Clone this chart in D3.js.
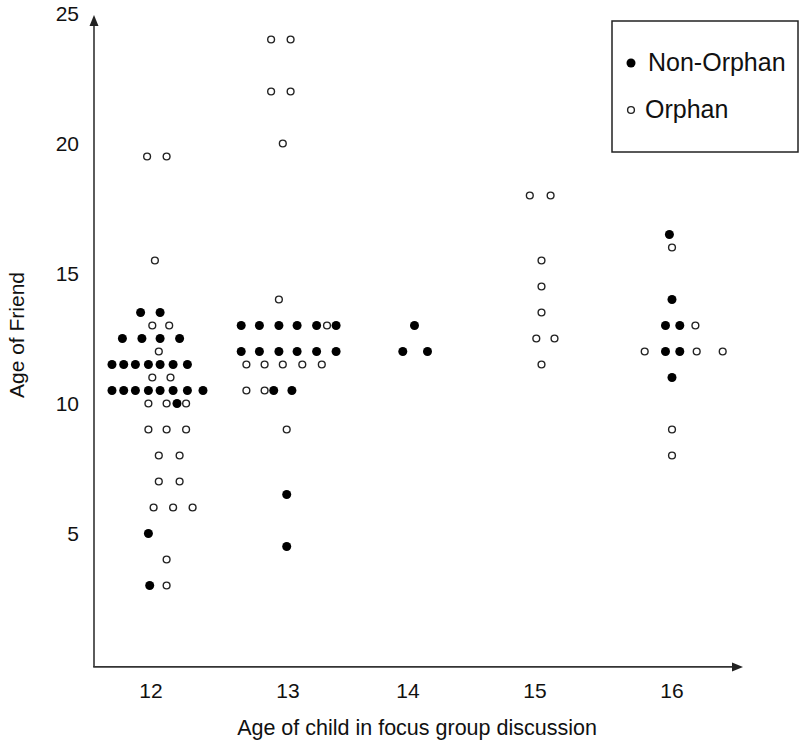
<!DOCTYPE html>
<html>
<head>
<meta charset="utf-8">
<script src="https://cdn.jsdelivr.net/npm/d3@7"></script>
<style>
  html, body { margin: 0; padding: 0; background: #fff; }
  svg { display: block; }
  text { font-family: "Liberation Sans", Arial, sans-serif; fill: #111; }
</style>
</head>
<body>
<svg id="chart" width="800" height="741"></svg>
<script>
// ---- data ----
const categories = [12, 13, 14, 15, 16];
const yTicks = [5, 10, 15, 20, 25];
// [age of child, age of friend, horizontal jitter (in age units)]
const nonOrphan = [
  [12, 13.5, -0.08], [12, 13.5, 0.07],
  [12, 12.5, -0.22], [12, 12.5, -0.07], [12, 12.5, 0.07], [12, 12.5, 0.22],
  [12, 11.5, -0.30], [12, 11.5, -0.21], [12, 11.5, -0.12], [12, 11.5, -0.02], [12, 11.5, 0.07], [12, 11.5, 0.17], [12, 11.5, 0.28],
  [12, 10.5, -0.30], [12, 10.5, -0.21], [12, 10.5, -0.12], [12, 10.5, -0.02], [12, 10.5, 0.07], [12, 10.5, 0.17], [12, 10.5, 0.28], [12, 10.5, 0.40],
  [12, 10, 0.20], [12, 5, -0.02], [12, 3, -0.01],
  [13, 13, -0.36], [13, 13, -0.22], [13, 13, -0.07], [13, 13, 0.07], [13, 13, 0.22], [13, 13, 0.37],
  [13, 12, -0.36], [13, 12, -0.22], [13, 12, -0.07], [13, 12, 0.07], [13, 12, 0.22], [13, 12, 0.37],
  [13, 10.5, -0.11], [13, 10.5, 0.03], [13, 6.5, -0.01], [13, 4.5, -0.01],
  [14, 13, 0.05], [14, 12, -0.04], [14, 12, 0.15],
  [16, 16.5, -0.02], [16, 14, 0], [16, 13, -0.05], [16, 13, 0.06],
  [16, 12, -0.05], [16, 12, 0.06], [16, 11, 0]
];
const orphan = [
  [12, 19.5, -0.03], [12, 19.5, 0.12], [12, 15.5, 0.03],
  [12, 13, 0.01], [12, 13, 0.14], [12, 12, 0.06], [12, 11, 0.01], [12, 11, 0.15],
  [12, 10, -0.02], [12, 10, 0.12], [12, 10, 0.27],
  [12, 9, -0.02], [12, 9, 0.12], [12, 9, 0.27],
  [12, 8, 0.06], [12, 8, 0.22], [12, 7, 0.06], [12, 7, 0.22],
  [12, 6, 0.02], [12, 6, 0.17], [12, 6, 0.32], [12, 4, 0.12], [12, 3, 0.12],
  [13, 24, -0.13], [13, 24, 0.02], [13, 22, -0.13], [13, 22, 0.02], [13, 20, -0.04],
  [13, 14, -0.07], [13, 13, 0.30],
  [13, 11.5, -0.32], [13, 11.5, -0.18], [13, 11.5, -0.04], [13, 11.5, 0.11], [13, 11.5, 0.26],
  [13, 10.5, -0.32], [13, 10.5, -0.18], [13, 9, -0.01],
  [15, 18, -0.04], [15, 18, 0.12], [15, 15.5, 0.05], [15, 14.5, 0.05], [15, 13.5, 0.05],
  [15, 12.5, 0.01], [15, 12.5, 0.15], [15, 11.5, 0.05],
  [16, 16, 0], [16, 13, 0.18], [16, 12, -0.21], [16, 12, 0.19], [16, 12, 0.39],
  [16, 9, 0], [16, 8, 0]
];
const seriesNames = ["Non-Orphan", "Orphan"];
const xTitle = "Age of child in focus group discussion";
const yTitle = "Age of Friend";

// ---- layout ----
const svg = d3.select("#chart");
const axisColor = "#333";
const x = d3.scaleLinear().domain(categories).range([151, 288, 408, 535, 672]);
const jitter = d3.scaleLinear().domain([0, 1]).range([0, 130]);
const y = d3.scaleLinear().domain([0, 25]).range([663.5, 13.5]);
const xAxisY = y(-0.13);
const yAxisX = 94;

// axes lines with arrowheads
svg.append("line").attr("x1", yAxisX).attr("y1", xAxisY).attr("x2", yAxisX).attr("y2", 24)
  .attr("stroke", axisColor).attr("stroke-width", 1.6);
svg.append("path").attr("d", `M${yAxisX},15 L${yAxisX - 4.5},26 L${yAxisX + 4.5},26 Z`).attr("fill", "#222");
svg.append("line").attr("x1", yAxisX - 0.8).attr("y1", xAxisY).attr("x2", 734).attr("y2", xAxisY)
  .attr("stroke", axisColor).attr("stroke-width", 1.6);
svg.append("path").attr("d", `M743,${xAxisY} L732,${xAxisY - 4.5} L732,${xAxisY + 4.5} Z`).attr("fill", "#222");

// tick labels
svg.append("g").selectAll("text").data(yTicks).join("text")
  .attr("x", 79).attr("y", d => y(d)).attr("dy", "0.36em")
  .attr("text-anchor", "end").attr("font-size", 21).text(d => d);
svg.append("g").selectAll("text").data(categories).join("text")
  .attr("x", d => x(d)).attr("y", 698)
  .attr("text-anchor", "middle").attr("font-size", 21).text(d => d);

// axis titles
svg.append("text").attr("x", 417).attr("y", 735).attr("text-anchor", "middle")
  .attr("font-size", 21.5).text(xTitle);
svg.append("text").attr("transform", "translate(24,335) rotate(-90)").attr("text-anchor", "middle")
  .attr("font-size", 21).text(yTitle);

// points
const px = d => x(d[0]) + jitter(d[2]);
svg.append("g").selectAll("circle").data(orphan).join("circle")
  .attr("cx", px).attr("cy", d => y(d[1])).attr("r", 3.4)
  .attr("fill", "#fff").attr("stroke", "#222").attr("stroke-width", 1.4);
svg.append("g").selectAll("circle").data(nonOrphan).join("circle")
  .attr("cx", px).attr("cy", d => y(d[1])).attr("r", 4.5)
  .attr("fill", "#000");

// legend
const lg = svg.append("g");
lg.append("rect").attr("x", 612).attr("y", 21).attr("width", 186).attr("height", 131)
  .attr("fill", "#fff").attr("stroke", "#222").attr("stroke-width", 1.5);
lg.append("circle").attr("cx", 631).attr("cy", 63).attr("r", 4.5).attr("fill", "#000");
lg.append("circle").attr("cx", 631).attr("cy", 110).attr("r", 3.4)
  .attr("fill", "#fff").attr("stroke", "#222").attr("stroke-width", 1.4);
lg.append("text").attr("x", 648).attr("y", 71).attr("font-size", 25).text(seriesNames[0]);
lg.append("text").attr("x", 645).attr("y", 118).attr("font-size", 25).text(seriesNames[1]);
</script>
</body>
</html>
